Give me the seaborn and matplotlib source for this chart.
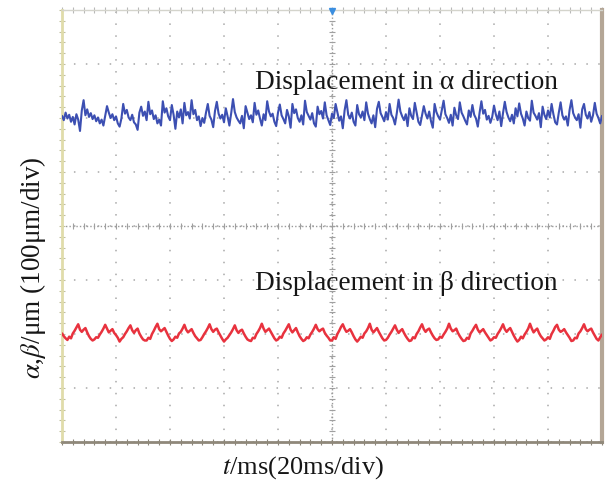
import numpy as np
import pandas as pd
import matplotlib
matplotlib.use("Agg")
import matplotlib.pyplot as plt
import seaborn as sns

# ---------------- data (μm vs ms) ----------------
alpha_um = [
    204, 196, 210, 199, 206, 193, 202, 188, 207, 197,
    176, 214, 233, 205, 216, 202, 209, 198, 205, 194,
    201, 190, 197, 186, 204, 222, 210, 200, 207, 196,
    203, 190, 184, 199, 226, 208, 215, 201, 196, 206,
    192, 188, 178, 210, 221, 204, 212, 196, 230, 207,
    214, 198, 205, 190, 197, 186, 231, 210, 218, 203,
    196, 224, 206, 180, 212, 201, 216, 190, 228, 205,
    211, 199, 233, 207, 215, 196, 203, 185, 200, 191,
    210, 226, 204, 197, 183, 213, 230, 208, 199, 206,
    192, 218, 203, 186, 209, 235, 211, 201, 195, 190,
    204, 181, 222, 210, 198, 205, 192, 228, 206, 214,
    199, 186, 207, 196, 231, 212, 203, 208, 193, 185,
    210, 225, 205, 198, 190, 215, 203, 182, 226, 209,
    216, 200, 193, 205, 188, 232, 211, 204, 197, 209,
    190, 184, 221, 207, 213, 199, 229, 205, 196, 187,
    208, 200, 226, 210, 195, 203, 181, 214, 233, 206,
    199, 210, 193, 186, 224, 207, 201, 212, 196, 229,
    208, 198, 190, 205, 183, 217, 230, 209, 202, 194,
    211, 197, 226, 206, 200, 188, 209, 234, 212, 203,
    196, 207, 185, 218, 204, 198, 228, 210, 193, 187,
    205, 222, 208, 199, 212, 194, 182, 226, 211, 203,
    197, 215, 232, 207, 200, 191, 206, 186, 219, 205,
    198, 229, 210, 203, 195, 188, 214, 202, 224, 206,
    199, 184, 210, 231, 208, 215, 197, 204, 191, 202,
    223, 207, 196, 212, 185, 209, 230, 211, 201, 194,
    206, 190, 218, 203, 227, 208, 199, 186, 212, 200,
    195, 232, 210, 204, 197, 209, 183, 221, 206, 198,
    214, 201, 226, 207, 192, 188, 210, 229, 205, 197,
    203, 186, 215, 233, 209, 201, 196, 207, 182, 216,
    226, 206, 199, 211, 193, 205, 228, 208, 200, 190,
    204,
]

beta_um = [
    -199, -204, -208,
    -211, -205, -208, -199, -194, -188, -182, -192, -196, -192, -189, -197, -204, -209, -212,
    -210, -206, -207, -201, -196, -190, -183, -190, -197, -194, -191, -198, -202, -207, -214,
    -209, -206, -200, -195, -189, -184, -193, -198, -193, -190, -199, -205, -210, -212,
    -212, -207, -209, -200, -194, -187, -181, -191, -195, -192, -189, -196, -203, -209, -213,
    -210, -205, -207, -199, -196, -190, -183, -192, -197, -194, -191, -198, -204, -208, -212,
    -211, -206, -200, -195, -189, -182, -191, -196, -192, -190, -197, -203, -209, -214,
    -210, -207, -202, -197, -191, -184, -193, -198, -194, -192, -199, -205, -210, -212,
    -213, -207, -208, -200, -195, -189, -181, -190, -196, -193, -190, -196, -202, -208, -212,
    -210, -205, -207, -199, -194, -188, -182, -192, -197, -193, -189, -197, -204, -209, -213,
    -211, -206, -208, -201, -196, -190, -183, -191, -195, -192, -190, -198, -203, -207, -212,
    -212, -206, -209, -200, -194, -187, -182, -190, -196, -194, -191, -197, -204, -210, -214,
    -210, -205, -207, -199, -195, -189, -181, -192, -197, -193, -189, -196, -202, -208, -212,
    -211, -207, -201, -196, -190, -184, -192, -198, -194, -191, -198, -204, -209, -213,
    -212, -206, -208, -200, -195, -188, -182, -191, -196, -192, -190, -197, -203, -208, -211,
    -210, -205, -207, -201, -196, -190, -181, -190, -195, -193, -190, -198, -204, -209, -213,
    -212, -207, -209, -199, -194, -188, -183, -192, -197, -194, -191, -197, -202, -207, -212,
    -210, -206, -207, -200, -195, -189, -182, -191, -196, -192, -189, -196, -203, -209, -214,
    -211, -205, -208, -201, -196, -190, -181, -190, -197, -193, -190, -198, -204, -208, -212,
    -210, -206, -209, -200, -194, -187, -183, -192, -196, -194, -191, -197, -202, -207, -213,
    -212, -207, -208, -199, -195, -189, -182, -191, -195, -192, -190, -197, -203, -209, -212,
    -206, -201,
]

label_alpha = "Displacement in α direction"
label_beta = "Displacement in β direction"
xlabel = r"$t$/ms(20ms/div)"
ylabel = r"$\alpha$,$\beta$/μm (100μm/div)"

df = pd.concat([
    pd.DataFrame({"t": np.linspace(0, 200, len(alpha_um)), "v": alpha_um, "s": "alpha"}),
    pd.DataFrame({"t": np.linspace(0, 200, len(beta_um)), "v": beta_um, "s": "beta"}),
])

# ---------------- style ----------------
sns.set_style("white")
plt.rcParams["font.family"] = ["Liberation Serif", "DejaVu Serif"]
plt.rcParams["mathtext.fontset"] = "stix"

fig = plt.figure(figsize=(6.09, 4.86), dpi=100)
ax = fig.add_axes([62 / 609, 44 / 486, 540 / 609, 432 / 486])

sns.lineplot(data=df[df.s == "alpha"], x="t", y="v", color="#3c4fb2",
             linewidth=1.5, legend=False, ax=ax, estimator=None, zorder=3)
sns.lineplot(data=df[df.s == "beta"], x="t", y="v", color="#e8323e",
             linewidth=1.8, legend=False, ax=ax, estimator=None, zorder=3)

ax.set_xlim(0, 200)
ax.set_ylim(-400, 400)
ax.set_xticks(np.arange(0, 201, 20))
ax.set_yticks(np.arange(-400, 401, 100))
ax.set_xticklabels([])
ax.set_yticklabels([])
ax.tick_params(which="both", length=0)
ax.grid(True, which="major", color="#a8a8a8", linestyle=(0, (1, 6.8)), linewidth=1.1)
ax.set_xlabel("")
ax.set_ylabel("")

# centre cross with division marks
ax.axvline(100, color="#9a9a9a", linestyle=(0, (1, 1.5)), linewidth=1.0, zorder=1)
ax.axhline(0, color="#9a9a9a", linestyle=(0, (1, 1.5)), linewidth=1.0, zorder=1)
mx = np.arange(0, 201, 4)
my = np.arange(-400, 401, 20)
ax.plot(mx, np.zeros_like(mx), ls="", marker="|", ms=4, color="#a0a0a0", mew=0.8, zorder=1)
ax.plot(np.full_like(my, 100), my, ls="", marker="_", ms=4, color="#a0a0a0", mew=0.8, zorder=1)
# edge division marks
ax.plot(mx, np.full_like(mx, 400), ls="", marker="|", ms=4, color="#b8b8b8", mew=0.8, clip_on=False)
ax.plot(np.zeros_like(my), my, ls="", marker="_", ms=4, color="#c0c0a0", mew=0.8, clip_on=False)
ax.plot(mx, np.full_like(mx, -400), ls="", marker="|", ms=4, color="#8a8478", mew=0.8, clip_on=False)

# trigger marker at the top
ax.plot([100], [398], marker="v", ms=5, color="#3a8ee0", clip_on=False, zorder=5)

for side, col, lw in [("left", "#e0dcaa", 2.0), ("bottom", "#8f887a", 2.0),
                      ("right", "#b4a696", 3.0), ("top", "#d4d4cc", 1.0)]:
    ax.spines[side].set_visible(True)
    ax.spines[side].set_color(col)
    ax.spines[side].set_linewidth(lw)

ax.text(71.5, 266, label_alpha, fontsize=19.6, ha="left", va="center", color="#161616")
ax.text(71.5, -106, label_beta, fontsize=19.6, ha="left", va="center", color="#161616")

fig.text(303 / 609, 1 - 468 / 486, xlabel, fontsize=19, ha="center", va="center", color="#161616")
fig.text(33 / 609, 1 - 268 / 486, ylabel, fontsize=19.5, rotation=90, ha="center", va="center", color="#161616")

fig.savefig("out.png", dpi=100)
